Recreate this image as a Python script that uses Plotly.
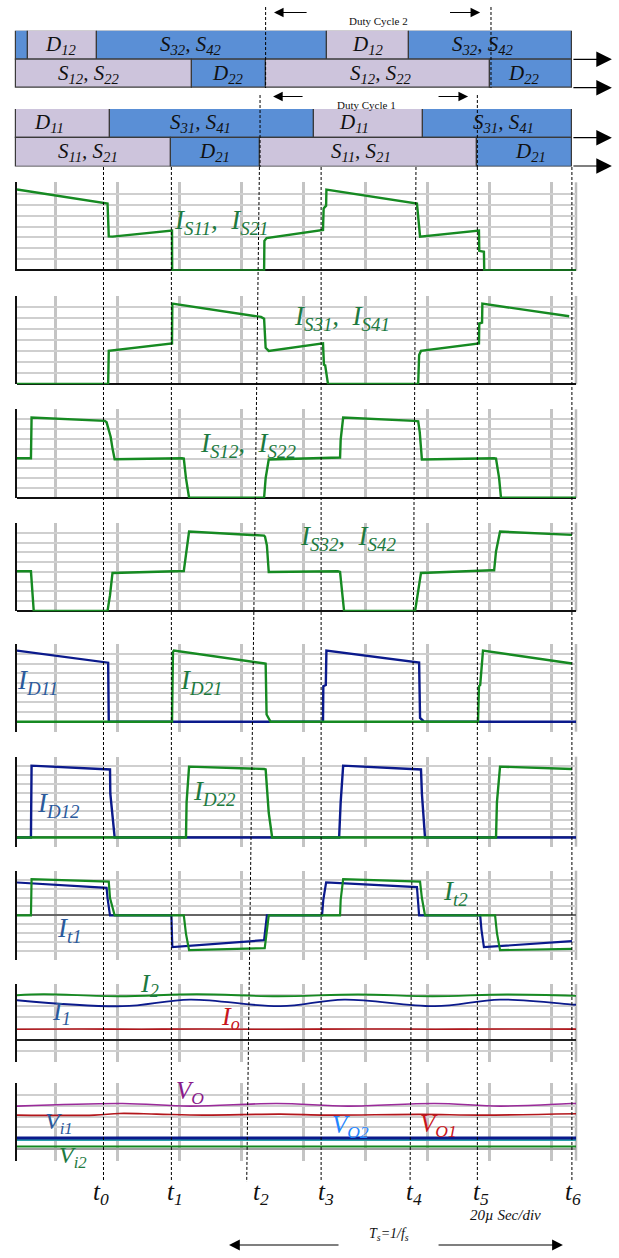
import plotly.graph_objects as go

W, H = 619, 1258

# ---------------- time base (µs), 20 µs per division ----------------
T_SCREEN = [0, 180.3]
GRID_T0, GRID_DT = 12.26, 20
PX_LEFT, PX_RIGHT, PX_PER_US = 17, 576, 3.1

# ---------------- switching-state bars ----------------
row1_edges = [-0.3, 3.7, 25.8, 100.0, 126.6, 179.0]
row1_col = ["B", "L", "B", "L", "B"]
row1_text = ["", "D<sub>12</sub>", "S<sub>32</sub>, S<sub>42</sub>", "D<sub>12</sub>", "S<sub>32</sub>, S<sub>42</sub>"]
row1_text_t = [None, 14.2, 56.1, 113.1, 150.3]

row2_edges = [-0.3, 56.5, 80.3, 152.6, 179.0]
row2_col = ["L", "B", "L", "B"]
row2_text = ["S<sub>12</sub>, S<sub>22</sub>", "D<sub>22</sub>", "S<sub>12</sub>, S<sub>22</sub>", "D<sub>22</sub>"]
row2_text_t = [23.2, 68.1, 117.4, 163.5]

row3_edges = [-0.3, 30.0, 95.8, 131.0, 179.0]
row3_col = ["L", "B", "L", "B"]
row3_text = ["D<sub>11</sub>", "S<sub>31</sub>, S<sub>41</sub>", "D<sub>11</sub>", "S<sub>31</sub>, S<sub>41</sub>"]
row3_text_t = [10.3, 59.2, 108.7, 156.8]

row4_edges = [-0.3, 49.7, 78.4, 148.4, 179.0]
row4_col = ["L", "B", "L", "B"]
row4_text = ["S<sub>11</sub>, S<sub>21</sub>", "D<sub>21</sub>", "S<sub>11</sub>, S<sub>21</sub>", "D<sub>21</sub>"]
row4_text_t = [22.9, 63.7, 111.0, 165.5]

# ---------------- waveforms (time µs, value in divisions) ----------------
is11_t = [0.0, 29.2, 29.6, 30.8, 50.0, 50.05, 79.7, 79.8, 80.5, 98.7, 98.9, 99.7, 99.8, 129.0, 130.0, 149.0, 149.1, 150.6, 150.7, 180.3]
is11_v = [7.37, 6.1, 3.1, 3.08, 3.62, 0, 0, 2.69, 2.95, 3.68, 5.65, 5.9, 7.37, 6.1, 3.08, 3.62, 1.78, 1.7, 0, 0]

is31_t = [0, 29.4, 29.6, 50.0, 50.1, 78.7, 79.7, 80.2, 81.2, 98.7, 99.0, 99.4, 100.3, 129.4, 129.7, 130.3, 149.0, 149.1, 150.0, 150.1, 178.1]
is31_v = [0, 0, 3.02, 3.71, 7.33, 6.12, 5.95, 3.3, 3.02, 3.71, 1.75, 1.7, 0, 0, 2.65, 3.02, 3.71, 5.52, 5.6, 7.33, 6.18]

is12_t = [0, 4.5, 4.7, 28.3, 28.9, 30.2, 30.8, 31.5, 53.2, 53.8, 54.5, 55.5, 79.7, 80.2, 81.2, 104.2, 104.4, 105.2, 128.1, 129.4, 129.9, 130.6, 153.9, 154.5, 155.5, 156.1, 180.3]
is12_v = [4.03, 4.03, 8.19, 7.85, 7.7, 6.23, 5.04, 3.93, 4.03, 4.0, 2.0, 0, 0, 2.0, 3.9, 4.1, 5.94, 8.19, 7.85, 7.8, 6.7, 3.9, 4.03, 4.0, 2.0, 0, 0]

is32_t = [0, 4.5, 5.4, 29.2, 30.0, 30.8, 53.8, 54.7, 55.5, 79.7, 80.0, 80.6, 81.2, 103.5, 104.2, 104.8, 105.5, 128.4, 129.4, 130.3, 153.2, 153.9, 154.5, 155.8, 179.0]
is32_v = [4.06, 4.06, 0, 0, 1.62, 3.89, 4.09, 6.09, 8.12, 7.71, 7.6, 6.7, 3.99, 4.06, 4.0, 2.13, 0, 0, 2.03, 3.89, 4.16, 4.16, 6.09, 8.12, 7.78]

id11_t = [0, 28.9, 29.4, 29.6, 98.7, 98.8, 99.6, 99.8, 129.0, 129.7, 130.0, 131.3, 180.3]
id11_v = [7.35, 6.12, 6.1, 0, 0, 3.66, 3.8, 7.35, 6.12, 6.1, 0.4, 0, 0]
id21_t = [0, 50.0, 50.3, 50.6, 79.9, 80.2, 80.5, 81.8, 148.7, 149.0, 149.4, 150.3, 179.0]
id21_v = [0, 0, 7.2, 7.35, 6.02, 6.0, 0.75, 0, 0, 3.66, 3.8, 7.35, 6.02]

id12_t = [0, 4.5, 4.7, 29.2, 30.0, 30.1, 30.8, 31.5, 103.9, 104.4, 105.2, 130.0, 130.3, 130.6, 131.6, 180.3]
id12_v = [0, 0, 8.03, 7.66, 7.6, 4.89, 2.29, 0, 0, 3.96, 8.03, 7.66, 7.6, 4.89, 0, 0]
id22_t = [0, 54.5, 54.7, 55.5, 79.7, 80.2, 80.6, 81.2, 82.3, 154.5, 154.8, 155.8, 179.0]
id22_v = [0, 0, 3.96, 7.92, 7.66, 7.6, 5.63, 2.74, 0, 0, 3.96, 7.92, 7.66]

it1_t = [0, 28.7, 28.9, 29.2, 30.0, 49.8, 50.1, 79.7, 80.2, 80.6, 98.4, 98.8, 99.7, 129.0, 129.7, 149.4, 149.8, 150.6, 179.0]
it1_v = [3.7, 3.18, 3.1, 1.95, 0, 0, -3.58, -2.8, -1.23, 0, 0, 1.76, 3.7, 3.18, 0, 0, -1.6, -3.58, -2.91]
it2_t = [0, 4.5, 4.7, 29.2, 29.6, 30.0, 31.5, 53.8, 54.5, 55.5, 79.9, 80.5, 81.2, 104.2, 104.4, 105.2, 129.7, 130.0, 130.6, 131.6, 154.2, 154.8, 155.8, 179.0]
it2_v = [0, 0, 4.07, 3.88, 3.8, 1.95, 0, 0, -2.08, -3.92, -3.7, -2.0, 0, 0, 1.76, 4.07, 3.88, 3.8, 1.95, 0, 0, -2.0, -3.92, -3.77]

i2_t = [0, 8.5, 32.8, 58.0, 84.0, 110.0, 134.0, 158.0, 180.3]
i2_v = [4.01, 4.1, 3.92, 4.1, 3.92, 4.08, 3.92, 4.08, 3.95]
i1_t = [0, 34.0, 55.8, 85.0, 105.5, 134.8, 155.8, 179.0, 180.3]
i1_v = [3.56, 3.02, 3.62, 3.02, 3.62, 3.02, 3.62, 3.17, 3.15]
io_t = [0, 20, 40, 60, 85, 110, 135, 160, 180.3]
io_v = [0.93, 0.96, 0.94, 0.96, 0.93, 0.96, 0.94, 0.96, 0.95]

vo_t = [0, 34.0, 55.8, 83.8, 106.7, 134.8, 155.8, 179.0, 180.3]
vo_v = [3.95, 4.19, 3.95, 4.19, 3.95, 4.19, 3.95, 4.19, 4.19]
vo1_t = [0, 25, 33, 45, 60, 85, 100, 130, 150, 180.3]
vo1_v = [3.13, 3.13, 3.28, 3.22, 3.13, 3.22, 3.13, 3.2, 3.13, 3.25]
vi1_t = [0, 180.3]
vi1_v = [1.03, 1.03]
vo2_t = [0, 180.3]
vo2_v = [0.87, 0.87]
vi2_t = [0, 180.3]
vi2_v = [0.27, 0.27]

# time-instant markers
t_names = ["t<sub>0</sub>", "t<sub>1</sub>", "t<sub>2</sub>", "t<sub>3</sub>", "t<sub>4</sub>", "t<sub>5</sub>", "t<sub>6</sub>"]
t_top = [27.9, 49.8, 78.2, 98.1, 128.7, 148.5, 179.0]
t_bot = [27.9, 49.8, 74.1, 98.1, 126.8, 148.5, 179.0]
t_label = [27.1, 51.0, 78.7, 99.7, 128.2, 149.7, 179.2]

# ---------------- style ----------------
GREEN = "#168a22"
NAVY = "#0b1a8c"
RED = "#b3161b"
PURPLE = "#9a2a9a"
TEAL = "#2aa0ab"
BAR_BLUE = "#5a8fd6"
BAR_LAV = "#cdc4dc"
SERIF = "Liberation Serif"


def py(p):
    return 1 - p / H


fig = go.Figure()
layout = {}

# ---- bars ----
def add_bar_group(rows, yaxis):
    bases, lens, ys, cols = [], [], [], []
    for ri, (edges, col) in enumerate(rows):
        for i in range(len(edges) - 1):
            bases.append(edges[i])
            lens.append(edges[i + 1] - edges[i])
            ys.append(ri)
            cols.append(BAR_BLUE if col[i] == "B" else BAR_LAV)
    fig.add_trace(go.Bar(orientation="h", base=bases, x=lens, y=ys, width=1,
                         marker=dict(color=cols, line=dict(color="#3a3a3a", width=1.2)),
                         xaxis="x2", yaxis=yaxis, showlegend=False, hoverinfo="skip"))

add_bar_group([(row1_edges, row1_col), (row2_edges, row2_col)], "y10")
add_bar_group([(row3_edges, row3_col), (row4_edges, row4_col)], "y11")

annotations = []
for yref, rows in (("y10", [(row1_text, row1_text_t), (row2_text, row2_text_t)]),
                   ("y11", [(row3_text, row3_text_t), (row4_text, row4_text_t)])):
    for ri, (texts, ts) in enumerate(rows):
        for txt, tt in zip(texts, ts):
            if not txt:
                continue
            annotations.append(dict(x=tt, y=ri, xref="x2", yref=yref, text=f"<i>{txt}</i>",
                                    showarrow=False, xanchor="center", yanchor="middle", borderpad=0,
                                    font=dict(family=SERIF, size=21, color="#111")))

# ---- panels ----
panels = [
    dict(top=182.3, bot=270.7, rng=(0, 8), zc="#111", tr=[(is11_t, is11_v, GREEN, 2.4, "linear")]),
    dict(top=296.0, bot=384.3, rng=(0, 8), zc="#111", tr=[(is31_t, is31_v, GREEN, 2.4, "linear")]),
    dict(top=409.3, bot=498.0, rng=(0, 9), zc="#111", tr=[(is12_t, is12_v, GREEN, 2.4, "linear")]),
    dict(top=522.7, bot=611.3, rng=(0, 9), zc="#111", tr=[(is32_t, is32_v, GREEN, 2.4, "linear")]),
    dict(top=644.0, bot=731.7, rng=(-1, 8), zc="#777", tr=[(id11_t, id11_v, NAVY, 2.4, "linear"), (id21_t, id21_v, GREEN, 2.4, "linear")]),
    dict(top=756.7, bot=846.7, rng=(-1, 9), zc="#777", tr=[(id12_t, id12_v, NAVY, 2.4, "linear"), (id22_t, id22_v, GREEN, 2.4, "linear")]),
    dict(top=870.7, bot=960.0, rng=(-5, 5), zc="#666", tr=[(it1_t, it1_v, NAVY, 2.2, "linear"), (it2_t, it2_v, GREEN, 2.2, "linear")]),
    dict(top=984.0, bot=1062.0, rng=(-2, 5), zc="#222", tr=[(io_t, io_v, RED, 1.6, "spline"), (i1_t, i1_v, NAVY, 1.8, "spline"), (i2_t, i2_v, GREEN, 1.8, "spline")]),
    dict(top=1083.3, bot=1160.7, rng=(-1, 6), zc="#a0a0a0", tr=[(vi2_t, vi2_v, GREEN, 2.0, "linear"), (vo2_t, vo2_v, TEAL, 2.2, "linear"), (vi1_t, vi1_v, NAVY, 3.0, "linear"), (vo1_t, vo1_v, RED, 1.6, "spline"), (vo_t, vo_v, PURPLE, 1.6, "spline")]),
]

shapes = []
for k, p in enumerate(panels, start=1):
    ya = "y" if k == 1 else f"y{k}"
    lo, hi = p["rng"]
    layout["yaxis" if k == 1 else f"yaxis{k}"] = dict(
        domain=[py(p["bot"]), py(p["top"])], range=[lo - 0.03, hi + 0.03], anchor="x",
        tick0=lo, dtick=1, showgrid=True, gridcolor="#cfcfcf", gridwidth=1.5,
        showline=True, linecolor="#111", linewidth=2, zeroline=True,
        zerolinecolor=p["zc"], zerolinewidth=1.6, showticklabels=False, ticks="", fixedrange=True)
    for (tt, vv, col, wd, shp) in p["tr"]:
        fig.add_trace(go.Scatter(x=tt, y=vv, mode="lines", line=dict(color=col, width=wd, shape=shp),
                                 xaxis="x", yaxis=ya, showlegend=False, hoverinfo="skip"))
    shapes.append(dict(type="line", xref="x domain", yref=f"{ya} domain", x0=1, x1=1, y0=0, y1=1,
                       line=dict(color="#bdbdbd", width=2.5), layer="below"))

layout["xaxis"] = dict(domain=[PX_LEFT / W, PX_RIGHT / W], range=T_SCREEN, anchor="y",
                       tick0=GRID_T0, dtick=GRID_DT, showgrid=True, gridcolor="#c4c4c4", gridwidth=2.6,
                       zeroline=False, showline=False, showticklabels=False, ticks="", fixedrange=True)
layout["xaxis2"] = dict(domain=[0, 1], range=[-PX_LEFT / PX_PER_US, (W - PX_LEFT) / PX_PER_US],
                        anchor="y10", visible=False, fixedrange=True)
layout["yaxis10"] = dict(domain=[py(88.0), py(30.7)], range=[1.5, -0.5], anchor="x2", visible=False, fixedrange=True)
layout["yaxis11"] = dict(domain=[py(166.5), py(109.0)], range=[1.5, -0.5], anchor="x2", visible=False, fixedrange=True)

DASH = dict(color="black", width=1, dash="3px,2px")
# time-instant dashed markers
for a, b in zip(t_top, t_bot):
    shapes.append(dict(type="line", xref="x2", yref="paper", x0=a, x1=b, y0=py(167), y1=py(1182), line=DASH))
# duty-cycle markers
for tx in (78.4, 148.5):
    shapes.append(dict(type="line", xref="x2", yref="paper", x0=tx, x1=tx, y0=py(95), y1=py(167), line=DASH))
for tx in (80.2, 152.9):
    shapes.append(dict(type="line", xref="x2", yref="paper", x0=tx, x1=tx, y0=py(7), y1=py(88), line=DASH))


def arrow(head, tail, ypx, size=1.6, width=1.2):
    return dict(x=head, y=py(ypx), xref="x2", yref="paper", ax=tail, axref="x2", ay=0, ayref="pixel",
                text="", showarrow=True, arrowhead=2, arrowsize=size, arrowwidth=width,
                arrowcolor="black", standoff=0, startstandoff=0)


# row direction arrows
for ypx in (59.3, 87.7, 137.7, 166.0):
    annotations.append(arrow(191.9, 179.0, ypx, size=2.6, width=1.2))
# duty cycle arrows + text
annotations += [arrow(82.9, 93.9, 12.5), arrow(149.4, 139.2, 12.5),
                arrow(82.6, 92.6, 96.5), arrow(145.5, 135.5, 96.5)]
annotations.append(dict(x=116.7, y=py(13), xref="x2", yref="paper", text="Duty Cycle 2", showarrow=False,
                        font=dict(family=SERIF, size=11, color="#111")))
annotations.append(dict(x=112.9, y=py(97), xref="x2", yref="paper", text="Duty Cycle 1", showarrow=False,
                        font=dict(family=SERIF, size=11, color="#111")))

# waveform labels
labels = [
    ("I<sub>S11</sub>,  I<sub>S21</sub>", 50.0, 222, "#1d7a3f", 27),
    ("I<sub>S31</sub>,  I<sub>S41</sub>", 88.7, 318, "#1d7a3f", 27),
    ("I<sub>S12</sub>,  I<sub>S22</sub>", 58.4, 445, "#1d7a3f", 27),
    ("I<sub>S32</sub>,  I<sub>S42</sub>", 90.6, 538, "#1d7a3f", 27),
    ("I<sub>D11</sub>", -0.6, 682, "#2b5a9c", 27),
    ("I<sub>D21</sub>", 51.9, 682, "#1d7a3f", 27),
    ("I<sub>D12</sub>", 5.8, 805, "#2b5a9c", 27),
    ("I<sub>D22</sub>", 56.0, 793, "#1d7a3f", 27),
    ("I<sub>t1</sub>", 12.1, 930, "#2b5a9c", 27),
    ("I<sub>t2</sub>", 136.7, 893, "#1d7a3f", 27),
    ("I<sub>2</sub>", 38.9, 985, "#1d7a3f", 26),
    ("I<sub>1</sub>", 10.5, 1013, "#2b5a9c", 26),
    ("I<sub>o</sub>", 65.2, 1018, "#c8151b", 26),
    ("V<sub>O</sub>", 50.6, 1092, "#8a1a8a", 25),
    ("V<sub>i1</sub>", 8.3, 1123, "#2b5a9c", 24),
    ("V<sub>O2</sub>", 101.0, 1126, "#1f86ff", 25),
    ("V<sub>O1</sub>", 129.4, 1125, "#c8151b", 25),
    ("V<sub>i2</sub>", 13.0, 1157, "#1d7a3f", 24),
]
for txt, tx, ypx, col, fs in labels:
    annotations.append(dict(x=tx, y=py(ypx), xref="x2", yref="paper", text=f"<i>{txt}</i>", showarrow=False,
                            xanchor="left", yanchor="middle", font=dict(family=SERIF, size=fs, color=col)))

for name, tx in zip(t_names, t_label):
    annotations.append(dict(x=tx, y=py(1193), xref="x2", yref="paper", text=f"<i>{name}</i>", showarrow=False,
                            xanchor="center", yanchor="middle", borderpad=0,
                            font=dict(family=SERIF, size=25, color="#111")))
annotations.append(dict(x=157.7, y=py(1224), xref="x2", yref="paper", text="<i>20µ Sec/div</i>", showarrow=False,
                        borderpad=0, font=dict(family=SERIF, size=15, color="#111")))
annotations.append(dict(x=120.0, y=py(1245), xref="x2", yref="paper", text="<i>T<sub>s</sub>=1/f<sub>s</sub></i>",
                        showarrow=False, font=dict(family=SERIF, size=14, color="#111")))
annotations += [arrow(68.4, 104.2, 1245, size=1.8), arrow(176.1, 135.5, 1245, size=1.8)]

fig.update_layout(width=W, height=H, margin=dict(l=0, r=0, t=0, b=0), paper_bgcolor="white",
                  plot_bgcolor="rgba(0,0,0,0)", showlegend=False, barmode="overlay", bargap=0,
                  shapes=shapes, annotations=annotations, **layout)
fig.write_html("out.html", config={"displayModeBar": False},
               post_script="document.body.style.margin='0px';document.body.style.padding='0px';")
